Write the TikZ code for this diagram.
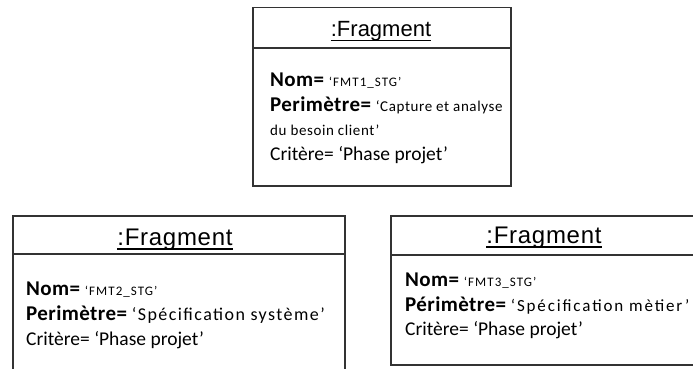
\documentclass[tikz,border=0pt]{standalone}
\usepackage{fontspec}
\setmainfont{Carlito}
\newfontfamily\titlefont{Liberation Sans}
\usetikzlibrary{positioning}
\tikzset{objbox/.style={draw=black!80,line width=1.5pt,fill=white,inner sep=0pt,anchor=north west},
  divider/.style={draw=black!80,line width=1.5pt},
  objtitle/.style={font=\titlefont\fontsize{22}{26}\selectfont,anchor=base,inner sep=0pt},
  bigtitle/.style={objtitle,font=\titlefont\fontsize{24}{28}\selectfont\addfontfeatures{LetterSpace=3}},
  uline/.style={line width=1.1pt},
  attr/.style={anchor=base west,inner sep=0pt,font=\fontsize{19.5}{22}\selectfont}}
\newcommand{\aname}[1]{{\fontsize{21}{22}\selectfont\addfontfeatures{LetterSpace=2}\textbf{#1}}}
\newcommand{\aval}[3]{{\fontsize{#1}{#1}\selectfont\addfontfeatures{LetterSpace=#2}#3}}

\begin{document}
\begin{tikzpicture}[x=1pt,y=-1pt]
\useasboundingbox[fill=white] (0,0) rectangle (693,369);
\clip (0,0) rectangle (693,369);
% fragment 1 (top)
\node[objbox,minimum width=258pt,minimum height=178pt] (frag1) at (252,7) {};
\draw[divider] (frag1.west |- 0,48) -- (frag1.east |- 0,48);
\node[objtitle] (title1) at (381,37) {:Fragment};
\draw[uline] ([yshift=-3.5pt]title1.base west) -- ([yshift=-3.5pt]title1.base east);
\node[attr] (nom1) at (270,86) {\aname{Nom=} \aval{13}{8}{‘FMT1\_STG’}};
\node[attr] (per1) at (270,111) {\aname{Perimètre=} \aval{15}{4}{‘Capture et analyse}};
\node[attr] (per1b) at (270,135) {\aval{15}{4}{du besoin client’}};
\node[attr] (crit1) at (270,160) {Critère= ‘Phase projet’};
% fragment 2 (bottom left)
\node[objbox,minimum width=332pt,minimum height=180pt] (frag2) at (12,215) {};
\draw[divider] (frag2.west |- 0,254) -- (frag2.east |- 0,254);
\node[bigtitle] (title2) at (175,245) {:Fragment};
\draw[uline] ([yshift=-4pt]title2.base west) -- ([yshift=-4pt]title2.base east);
\node[attr] (nom2) at (26,295) {\aname{Nom=} \aval{13}{8}{‘FMT2\_STG’}};
\node[attr] (per2) at (26,320) {\aname{Perimètre=} \aval{18}{8}{‘Spécification système’}};
\node[attr] (crit2) at (26,345) {Critère= ‘Phase projet’};
% fragment 3 (bottom right)
\node[objbox,minimum width=330pt,minimum height=149pt] (frag3) at (390,215) {};
\draw[divider] (frag3.west |- 0,255) -- (frag3.east |- 0,255);
\node[bigtitle] (title3) at (544,243) {:Fragment};
\draw[uline] ([yshift=-4pt]title3.base west) -- ([yshift=-4pt]title3.base east);
\node[attr] (nom3) at (405,286) {\aname{Nom=} \aval{13}{8}{‘FMT3\_STG’}};
\node[attr] (per3) at (405,311) {\aname{Périmètre=} \aval{17}{11}{‘Spécification mètier’}};
\node[attr] (crit3) at (405,335) {Critère= ‘Phase projet’};
\end{tikzpicture}
\end{document}
